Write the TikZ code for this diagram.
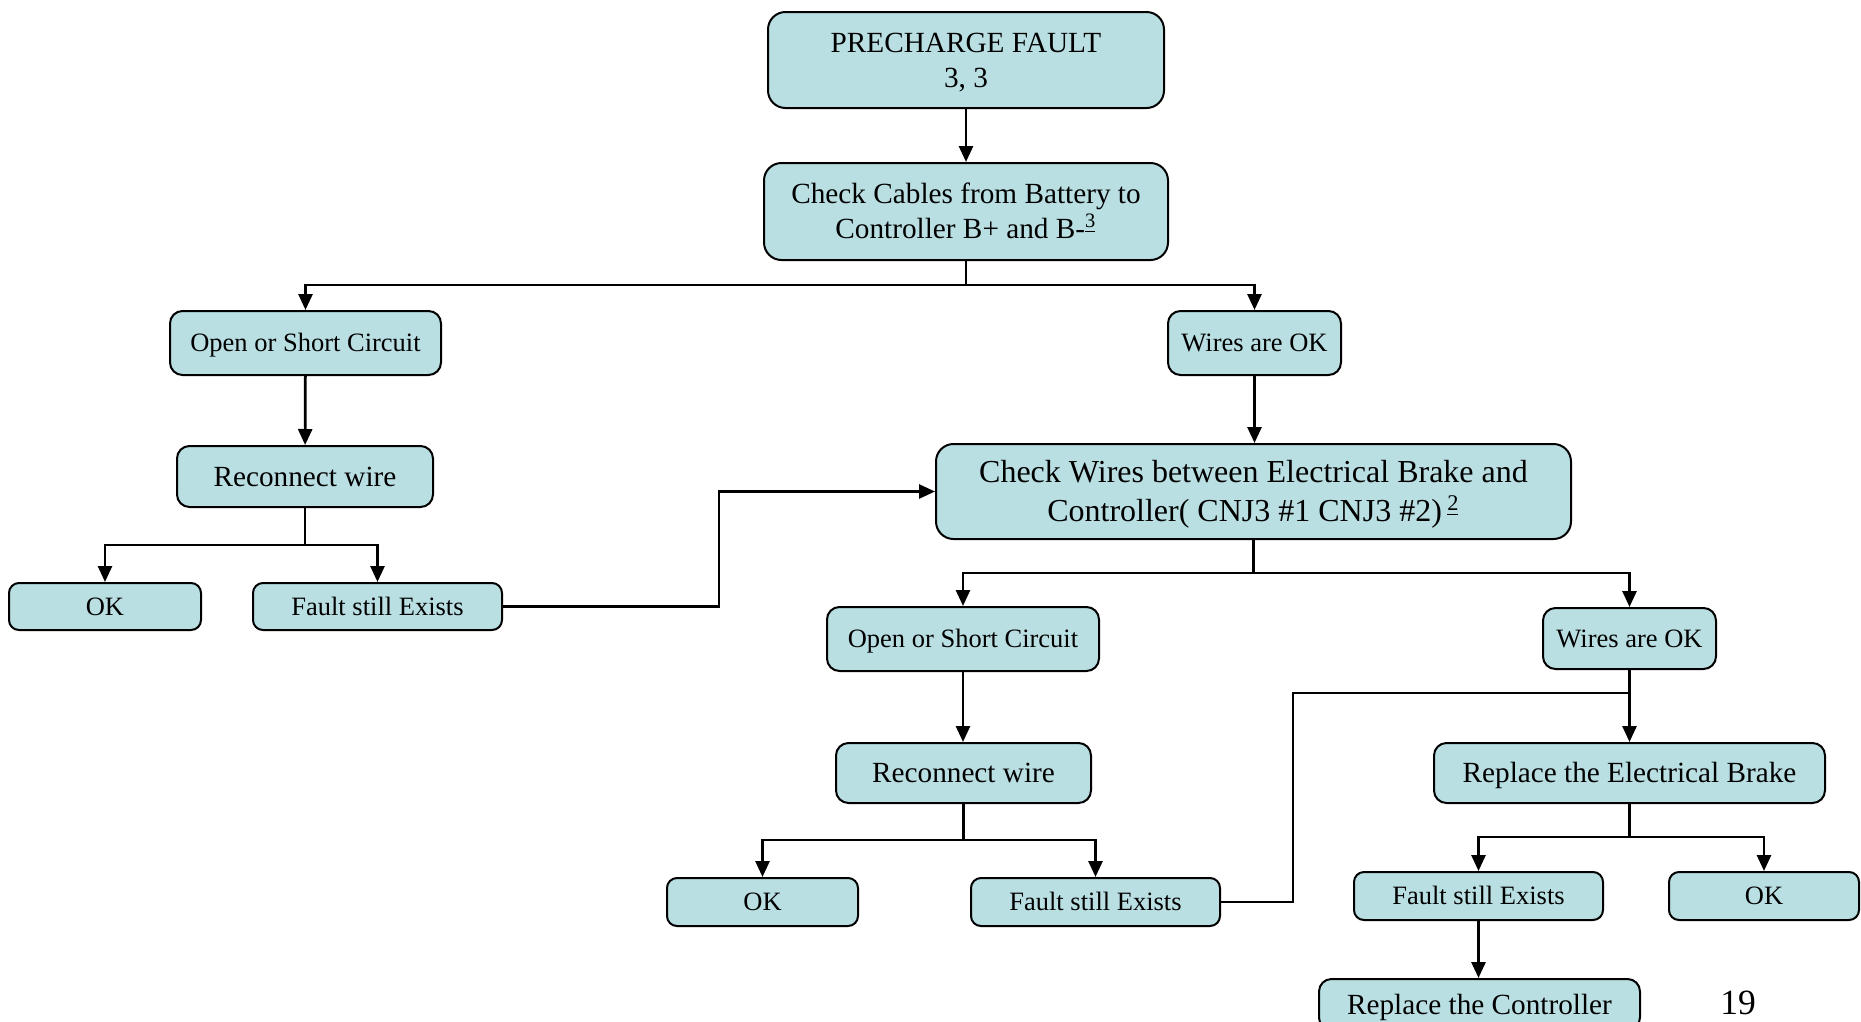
\documentclass[tikz,border=0pt]{standalone}
\usepackage{fontspec}
\setmainfont{Liberation Serif}
\usetikzlibrary{arrows.meta}
\definecolor{boxfill}{HTML}{B9DFE3}

% place a box from its corner coordinates (x1,y1)-(x2,y2), given in pixel-like units
\newcommand\flowbox[7]{%
  \node[#1, minimum width={(#5-#3)*0.4pt}, minimum height={(#6-#4)*0.4pt}]
    (#2) at ({(#3+#5)/2},{(#4+#6)/2}) {#7};}

\begin{document}
\begin{tikzpicture}[x=0.4pt, y=-0.4pt,
  box/.style={draw=black, line width=0.8pt, fill=boxfill, inner sep=0pt, align=center},
  bigbox/.style={box, rounded corners=7pt},
  midbox/.style={box, rounded corners=5pt},
  smallbox/.style={box, rounded corners=4pt},
  % text sizes; capitals are centred vertically in each box
  txtS/.style={font=\fontsize{10.6}{12.5}\selectfont, text height=7.0pt, text depth=0pt},
  txtM/.style={font=\fontsize{11.7}{14}\selectfont, text height=7.75pt, text depth=0pt},
  txtMtwo/.style={font=\fontsize{11.7}{14}\selectfont, text height=21.75pt, text depth=0pt},
  txtLtwo/.style={font=\fontsize{12.8}{15.8}\selectfont, text height=24.27pt, text depth=0pt},
  link/.style={line width=1.1pt},
  arr/.style={link, -{Triangle[length=6.4pt,width=5.6pt]}}]
\useasboundingbox (0,0) rectangle (1861,1021);
\fill[white] (0,0) rectangle (1861,1021);
\clip (0,0) rectangle (1861,1021);

% top of the tree
\flowbox{bigbox,txtMtwo}{pre}{768}{12}{1164}{108}{PRECHARGE FAULT\\3, 3}
\flowbox{bigbox,txtMtwo}{cab}{764}{163}{1168}{260}{Check Cables from Battery to\\Controller B+ and B-\textsuperscript{\underline{3}}}

% left branch
\flowbox{midbox,txtS}{osL}{170}{311}{441}{375}{Open or Short Circuit}
\flowbox{midbox,txtM}{rwL}{177}{446}{433}{507}{Reconnect wire}
\flowbox{smallbox,txtS}{okL}{9}{583}{201}{630}{OK}
\flowbox{smallbox,txtS}{fL}{253}{583}{502}{630}{Fault still Exists}

% right branch
\flowbox{midbox,txtS}{wok}{1168}{311}{1341}{375}{Wires are OK}
\flowbox{bigbox,txtLtwo}{cw}{936}{444}{1571}{539}{Check Wires between Electrical Brake and\\Controller( CNJ3 \#1 CNJ3 \#2)\,\textsuperscript{\underline{2}}}
\flowbox{midbox,txtS}{osR}{827}{607}{1099}{671}{Open or Short Circuit}
\flowbox{midbox,txtS}{wokR}{1543}{608}{1716}{669}{Wires are OK}
\flowbox{midbox,txtM}{rwR}{836}{743}{1091}{803}{Reconnect wire}
\flowbox{midbox,txtM}{reb}{1434}{743}{1825}{803}{Replace the Electrical Brake}
\flowbox{smallbox,txtS}{okM}{667}{878}{858}{926}{OK}
\flowbox{smallbox,txtS}{fM}{971}{878}{1220}{926}{Fault still Exists}
\flowbox{smallbox,txtS}{fBR}{1354}{872}{1603}{920}{Fault still Exists}
\flowbox{smallbox,txtS}{okBR}{1669}{872}{1859}{920}{OK}
\flowbox{midbox,txtM}{rc}{1319}{979}{1640}{1030}{Replace the Controller}

\node[font=\fontsize{14.2}{16}\selectfont] (pg) at (1738,1003) {19};

% junction points of the connectors
\coordinate (j1) at (cab.south |- 0,285);
\coordinate (j2) at (rwL.south |- 0,545);
\coordinate (k1) at (719,0 |- cw.west);
\coordinate (j3) at (cw.south |- 0,573);
\coordinate (j4) at (rwR.south |- 0,840);
\coordinate (k2) at (1293,693);
\coordinate (k3) at (wokR.south |- k2);
\coordinate (j5) at (reb.south |- 0,837);

% connectors
\draw[arr] (pre) -- (cab);
\draw[link] (cab.south) -- (j1);
\draw[arr] (j1) -| (osL.north);
\draw[arr] (j1) -| (wok.north);
\draw[arr] (osL) -- (rwL);
\draw[link] (rwL.south) -- (j2);
\draw[arr] (j2) -| (okL.north);
\draw[arr] (j2) -| (fL.north);
\draw[arr] (fL.east) -| (k1) -- (cw.west);
\draw[arr] (wok.south) -- (wok.south |- cw.north);
\draw[link] (cw.south) -- (j3);
\draw[arr] (j3) -| (osR.north);
\draw[arr] (j3) -| (wokR.north);
\draw[arr] (osR.south) -- (osR.south |- rwR.north);
\draw[link] (rwR.south) -- (j4);
\draw[arr] (j4) -| (okM.north);
\draw[arr] (j4) -| (fM.north);
\draw[link] (fM.east) -| (k2) -- (k3);
\draw[arr] (wokR.south) -- (wokR.south |- reb.north);
\draw[link] (reb.south) -- (j5);
\draw[arr] (j5) -| (fBR.north);
\draw[arr] (j5) -| (okBR.north);
\draw[arr] (fBR.south) -- (fBR.south |- rc.north);
\end{tikzpicture}
\end{document}
